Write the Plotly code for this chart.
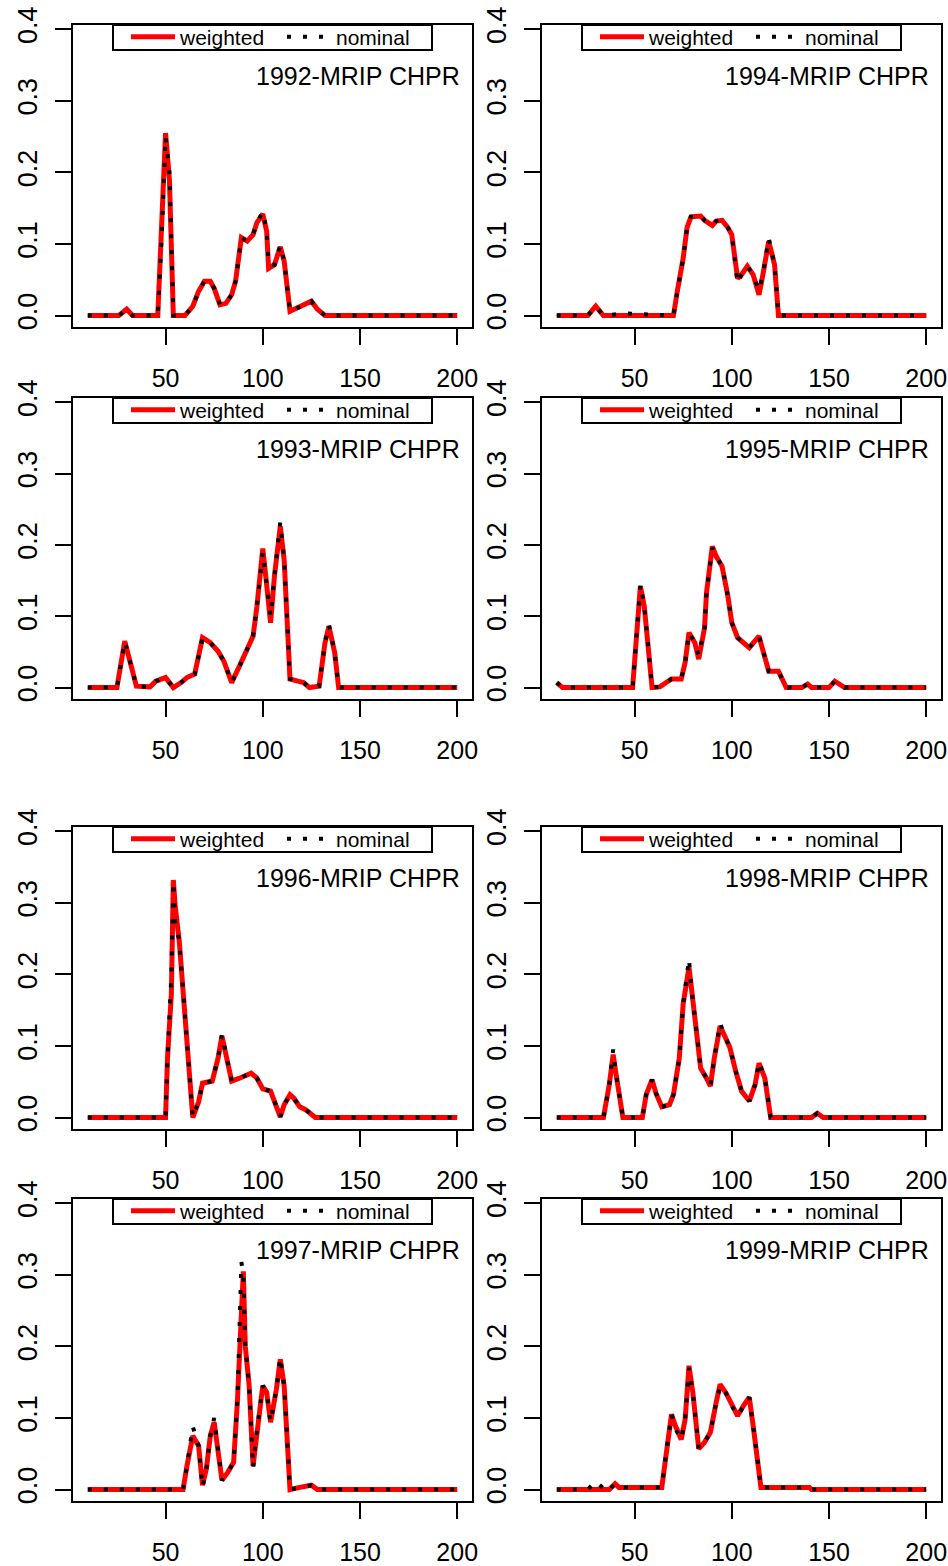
import plotly.graph_objects as go

# ---------------- data ----------------
years = ["1992", "1994", "1993", "1995", "1996", "1998", "1997", "1999"]

x_1992 = [10, 26, 30, 33, 46, 48, 50, 52, 54, 60, 64, 67, 70, 73, 75, 78, 81, 84, 86, 89, 92, 95, 97, 100, 102, 103, 106, 109, 111, 114, 120, 125, 128, 132, 200]
w_1992 = [0, 0, 0.009, 0, 0, 0.11, 0.255, 0.19, 0, 0, 0.013, 0.034, 0.048, 0.048, 0.038, 0.015, 0.017, 0.029, 0.048, 0.109, 0.104, 0.113, 0.13, 0.142, 0.118, 0.066, 0.071, 0.096, 0.076, 0.006, 0.013, 0.02, 0.009, 0, 0]
n_1992 = [0, 0, 0.009, 0, 0, 0.11, 0.25, 0.2, 0, 0, 0.013, 0.034, 0.048, 0.048, 0.038, 0.015, 0.017, 0.029, 0.048, 0.109, 0.104, 0.113, 0.13, 0.145, 0.118, 0.072, 0.071, 0.098, 0.076, 0.006, 0.013, 0.02, 0.009, 0, 0]

x_1994 = [10, 26, 30, 34, 45, 70, 72, 75, 77, 79, 84, 86, 90, 92, 95, 98, 100, 103, 105, 108, 111, 114, 116, 119, 122, 124, 200]
w_1994 = [0, 0, 0.013, 0, 0, 0, 0.034, 0.08, 0.123, 0.138, 0.139, 0.133, 0.126, 0.132, 0.133, 0.123, 0.113, 0.052, 0.057, 0.069, 0.057, 0.029, 0.057, 0.104, 0.071, 0, 0]
n_1994 = [0, 0, 0.013, 0, 0.003, 0, 0.034, 0.08, 0.123, 0.138, 0.141, 0.133, 0.126, 0.132, 0.133, 0.123, 0.113, 0.045, 0.057, 0.069, 0.057, 0.035, 0.057, 0.108, 0.071, 0, 0]

x_1993 = [10, 25, 29, 31, 35, 42, 45, 50, 54, 58, 61, 65, 69, 73, 77, 80, 84, 88, 91, 95, 97, 100, 102, 104, 106, 109, 111, 114, 118, 121, 124, 129, 132, 134, 137, 139, 200]
w_1993 = [0, 0, 0.065, 0.044, 0.002, 0.001, 0.009, 0.014, 0, 0.007, 0.014, 0.019, 0.07, 0.063, 0.051, 0.037, 0.007, 0.03, 0.049, 0.072, 0.114, 0.195, 0.144, 0.091, 0.156, 0.226, 0.179, 0.012, 0.009, 0.007, 0, 0.002, 0.063, 0.086, 0.049, 0, 0]
n_1993 = [0, 0, 0.065, 0.044, 0.002, 0.001, 0.009, 0.014, 0, 0.007, 0.014, 0.019, 0.07, 0.063, 0.051, 0.037, 0.007, 0.03, 0.049, 0.072, 0.114, 0.19, 0.144, 0.1, 0.156, 0.232, 0.179, 0.012, 0.009, 0.007, 0, 0.002, 0.063, 0.088, 0.049, 0, 0]

x_1995 = [10, 13, 49, 51, 53, 55, 57, 59, 63, 69, 74, 76, 78, 81, 83, 86, 87, 90, 92, 95, 98, 100, 103, 109, 114, 116, 119, 124, 128, 136, 139, 141, 150, 153, 158, 200]
w_1995 = [0.007, 0, 0, 0.072, 0.142, 0.114, 0.058, 0, 0.001, 0.012, 0.012, 0.035, 0.077, 0.063, 0.04, 0.084, 0.133, 0.198, 0.184, 0.17, 0.128, 0.091, 0.07, 0.056, 0.072, 0.051, 0.023, 0.023, 0, 0, 0.005, 0, 0, 0.009, 0, 0]
n_1995 = [0.007, 0, 0, 0.072, 0.145, 0.114, 0.058, 0, 0.001, 0.012, 0.012, 0.035, 0.077, 0.063, 0.045, 0.084, 0.133, 0.196, 0.184, 0.17, 0.128, 0.091, 0.07, 0.056, 0.072, 0.051, 0.023, 0.023, 0, 0, 0.005, 0, 0, 0.009, 0, 0]

x_1996 = [10, 50, 51, 53, 54, 55, 57, 59, 61, 64, 67, 69, 74, 77, 79, 81, 84, 88, 94, 97, 100, 104, 109, 111, 114, 116, 119, 122, 127, 200]
w_1996 = [0, 0, 0.083, 0.173, 0.332, 0.294, 0.248, 0.177, 0.098, 0, 0.022, 0.048, 0.051, 0.083, 0.114, 0.088, 0.051, 0.055, 0.062, 0.055, 0.04, 0.037, 0.001, 0.018, 0.032, 0.027, 0.015, 0.011, 0, 0]
n_1996 = [0, 0, 0.083, 0.2, 0.33, 0.27, 0.248, 0.177, 0.098, 0, 0.022, 0.048, 0.051, 0.083, 0.116, 0.088, 0.051, 0.055, 0.062, 0.055, 0.04, 0.037, 0.001, 0.018, 0.032, 0.027, 0.015, 0.011, 0, 0]

x_1998 = [10, 34, 37, 39, 40, 44, 54, 56, 59, 61, 64, 68, 70, 73, 75, 78, 79, 81, 84, 87, 89, 91, 94, 96, 99, 102, 105, 109, 112, 114, 117, 120, 141, 144, 147, 200]
w_1998 = [0, 0, 0.046, 0.088, 0.069, 0, 0, 0.032, 0.053, 0.034, 0.015, 0.018, 0.032, 0.083, 0.159, 0.21, 0.187, 0.144, 0.069, 0.055, 0.044, 0.083, 0.128, 0.116, 0.098, 0.065, 0.037, 0.023, 0.046, 0.076, 0.055, 0, 0, 0.006, 0, 0]
n_1998 = [0, 0, 0.046, 0.095, 0.069, 0, 0, 0.032, 0.053, 0.034, 0.015, 0.018, 0.032, 0.083, 0.159, 0.222, 0.187, 0.144, 0.069, 0.055, 0.044, 0.083, 0.132, 0.116, 0.098, 0.065, 0.037, 0.023, 0.046, 0.078, 0.055, 0, 0, 0.006, 0, 0]

x_1997 = [10, 59, 61, 64, 67, 69, 71, 73, 75, 77, 79, 82, 85, 87, 89, 90, 91, 93, 95, 97, 100, 102, 104, 107, 109, 111, 114, 119, 125, 128, 200]
w_1997 = [0, 0, 0.033, 0.075, 0.061, 0.006, 0.029, 0.075, 0.094, 0.057, 0.013, 0.024, 0.038, 0.126, 0.275, 0.305, 0.2, 0.145, 0.033, 0.084, 0.145, 0.136, 0.094, 0.14, 0.182, 0.145, 0, 0.003, 0.006, 0, 0]
n_1997 = [0, 0, 0.033, 0.088, 0.061, 0.003, 0.029, 0.075, 0.1, 0.057, 0.013, 0.024, 0.038, 0.126, 0.318, 0.3, 0.2, 0.145, 0.03, 0.084, 0.145, 0.136, 0.094, 0.14, 0.185, 0.145, 0, 0.003, 0.006, 0, 0]

x_1999 = [10, 26, 28, 30, 32, 34, 37, 40, 42, 64, 67, 69, 71, 74, 76, 78, 80, 83, 86, 89, 92, 94, 97, 100, 103, 106, 109, 111, 113, 115, 140, 141, 200]
w_1999 = [0, 0, 0, 0, 0, 0, 0, 0.008, 0.003, 0.003, 0.066, 0.105, 0.089, 0.07, 0.098, 0.173, 0.135, 0.057, 0.066, 0.08, 0.122, 0.147, 0.135, 0.117, 0.103, 0.117, 0.129, 0.089, 0.043, 0.003, 0.003, 0, 0]
n_1999 = [0, 0, 0.006, 0.009, 0.002, 0.008, 0, 0.008, 0.003, 0.003, 0.066, 0.105, 0.085, 0.07, 0.098, 0.17, 0.135, 0.057, 0.066, 0.08, 0.122, 0.145, 0.135, 0.117, 0.103, 0.117, 0.129, 0.089, 0.043, 0.003, 0.003, 0, 0]

x_ticks = [50, 100, 150, 200]
y_ticks = [0.0, 0.1, 0.2, 0.3, 0.4]
y_tick_text = ["0.0", "0.1", "0.2", "0.3", "0.4"]
series_names = ["weighted", "nominal"]
title_suffix = "-MRIP CHPR"

panel_data = {
    "1992": (x_1992, w_1992, n_1992),
    "1994": (x_1994, w_1994, n_1994),
    "1993": (x_1993, w_1993, n_1993),
    "1995": (x_1995, w_1995, n_1995),
    "1996": (x_1996, w_1996, n_1996),
    "1998": (x_1998, w_1998, n_1998),
    "1997": (x_1997, w_1997, n_1997),
    "1999": (x_1999, w_1999, n_1999),
}

# ---------------- layout geometry (pixels) ----------------
W, H = 948, 1566
col_lr = [(73, 472), (542, 941)]
row_tb = [(25, 327), (398, 699), (827, 1129), (1199, 1501)]
FONT = "Liberation Sans, Arial, sans-serif"

fig = go.Figure()
layout = dict(
    width=W, height=H,
    margin=dict(l=0, r=0, t=0, b=0, autoexpand=False),
    paper_bgcolor="white", plot_bgcolor="white",
    font=dict(family=FONT, color="black"),
    showlegend=True,
    annotations=[],
    shapes=[],
)

for k, yr in enumerate(years):
    r, c = divmod(k, 2)
    L, R = col_lr[c]
    T, B = row_tb[r]
    idx = "" if k == 0 else str(k + 1)
    xs, ws, ns = panel_data[yr]
    lg = "legend" + idx

    fig.add_trace(go.Scatter(
        x=xs, y=ws, mode="lines", name=series_names[0],
        line=dict(color="#ff0000", width=5),
        xaxis="x" + idx, yaxis="y" + idx, legend=lg,
    ))
    fig.add_trace(go.Scatter(
        x=xs, y=ns, mode="lines", name=series_names[1],
        line=dict(color="black", width=4, dash="4px,12px"),
        xaxis="x" + idx, yaxis="y" + idx, legend=lg,
    ))

    layout["xaxis" + idx] = dict(
        domain=[L / W, R / W], range=[2.4, 207.6], anchor="y" + idx,
        tickvals=x_ticks, ticks="outside", ticklen=16, tickwidth=2, tickcolor="black",
        showline=True, linecolor="black", linewidth=2, mirror=True,
        showgrid=False, zeroline=False, ticklabelstandoff=12,
        tickfont=dict(family=FONT, size=25, color="black"),
    )
    layout["yaxis" + idx] = dict(
        domain=[1 - B / H, 1 - T / H], range=[-0.016, 0.406], anchor="x" + idx,
        tickvals=y_ticks, ticktext=y_tick_text, tickangle=-90,
        ticks="outside", ticklen=16, tickwidth=2, tickcolor="black",
        showline=True, linecolor="black", linewidth=2, mirror=True,
        showgrid=False, zeroline=False, ticklabelstandoff=7,
        tickfont=dict(family=FONT, size=27, color="black"),
    )
    # legend frame
    layout["shapes"].append(dict(
        type="rect", xref="paper", yref="paper",
        x0=(L + 40) / W, x1=(L + 359) / W, y0=1 - (T + 25) / H, y1=1 - T / H,
        line=dict(color="black", width=2), fillcolor="white", layer="above",
    ))
    layout[lg] = dict(
        x=(L + 53) / W, y=1 - (T - 8.5) / H, xanchor="left", yanchor="top",
        orientation="h", bgcolor="rgba(0,0,0,0)", borderwidth=0,
        font=dict(family=FONT, size=21, color="black"),
        itemwidth=44, entrywidth=97, entrywidthmode="pixels",
    )
    layout["annotations"].append(dict(
        text=yr + title_suffix, xref="paper", yref="paper",
        x=(R - 10) / W, y=1 - (T + 51) / H, xanchor="right", yanchor="middle",
        showarrow=False, font=dict(family=FONT, size=25, color="black"),
    ))

fig.update_layout(**layout)
fig.write_html("out.html")
